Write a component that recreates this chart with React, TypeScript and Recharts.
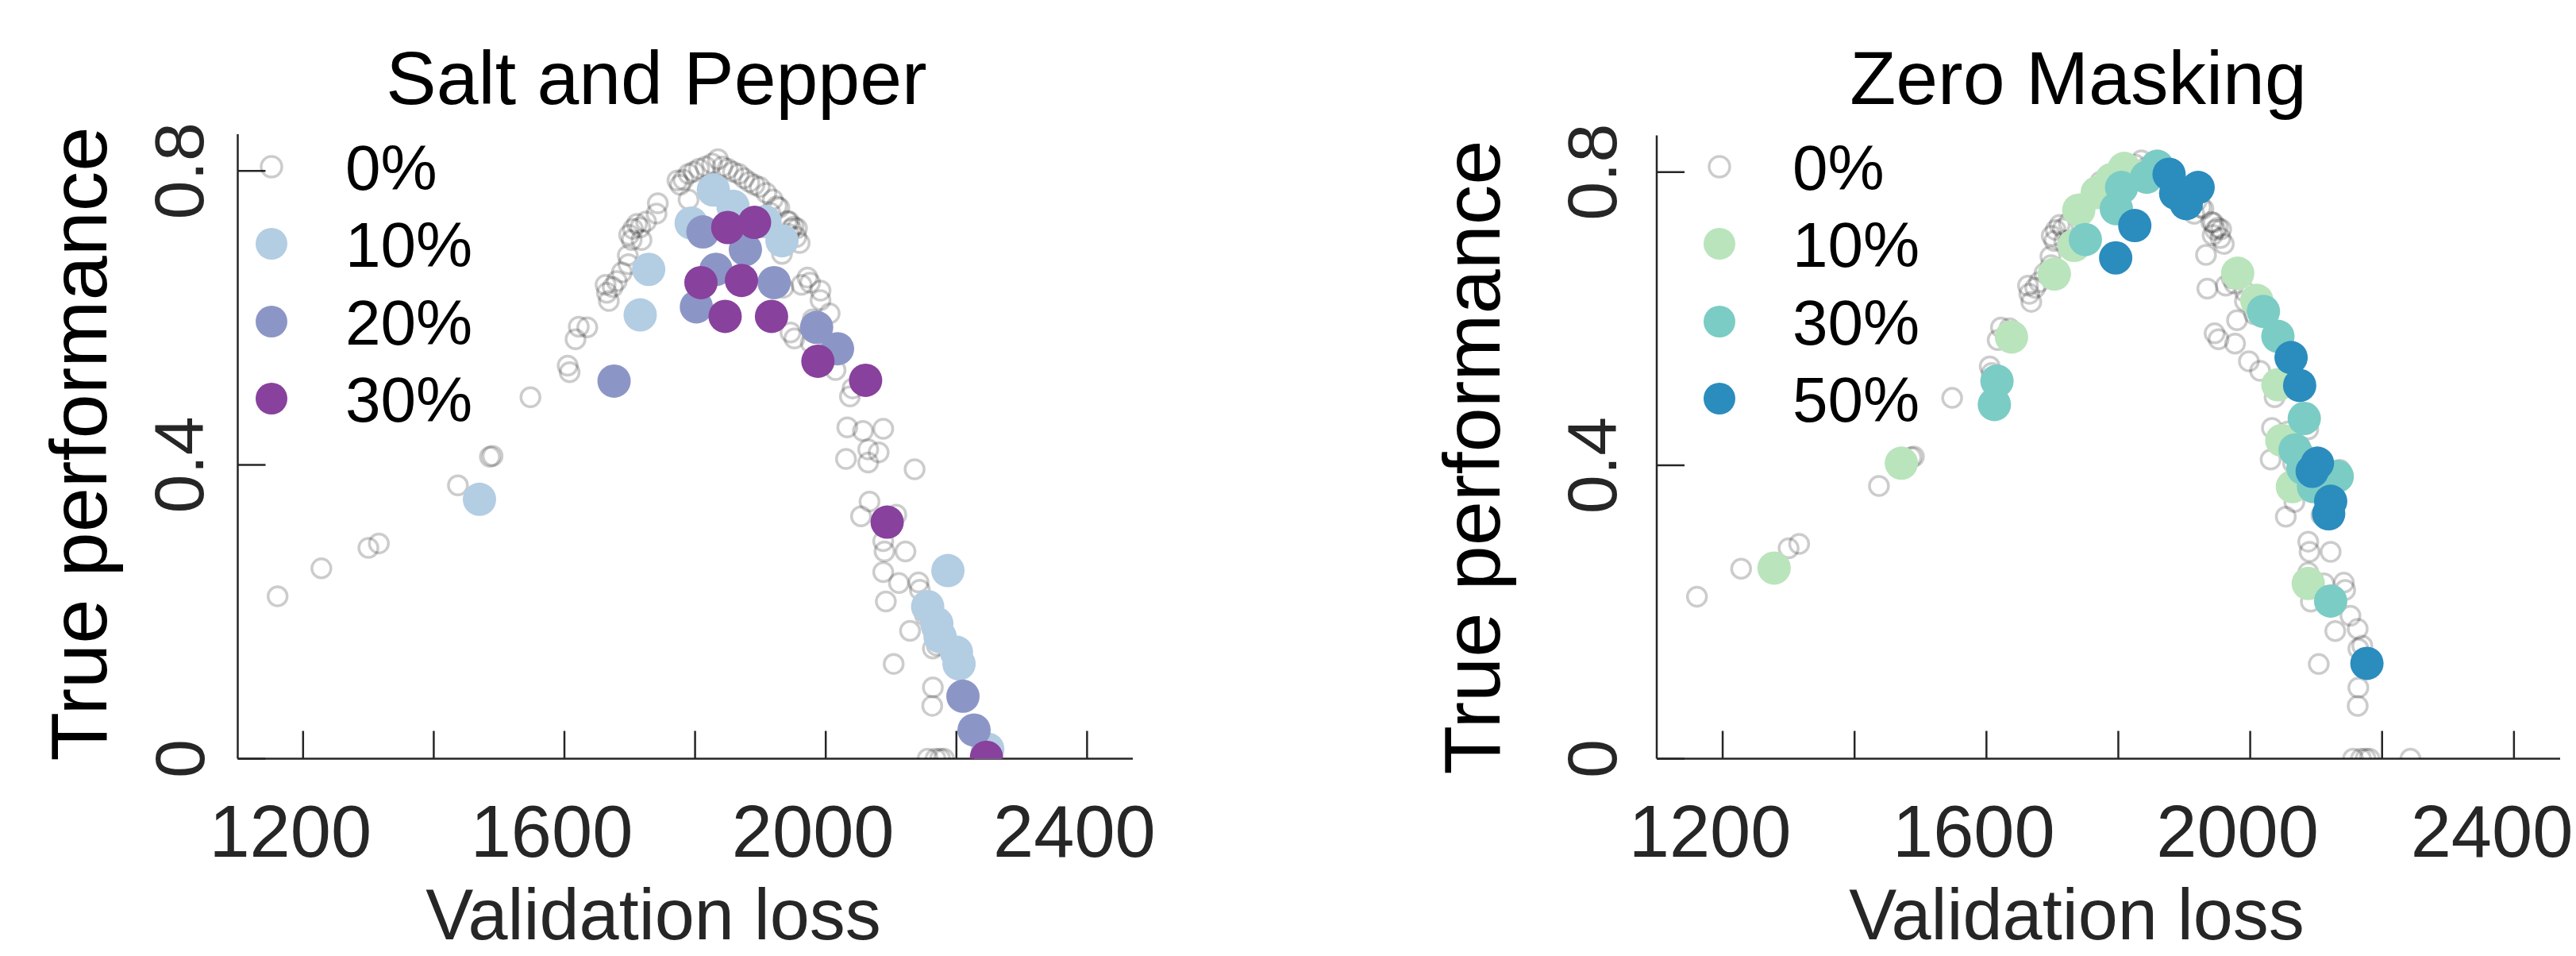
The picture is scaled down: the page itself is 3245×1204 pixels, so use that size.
import React from 'react';
import { ScatterChart, Scatter, XAxis, YAxis } from 'recharts';

const FONT = '"Liberation Sans", Arial, Helvetica, sans-serif';
const INK = '#262626';
const H = 1204;

const X_TICKS = [1200, 1400, 1600, 1800, 2000, 2200, 2400];
const X_LABELED = [1200, 1600, 2000, 2400];
const Y_TICKS = [0, 0.4, 0.8];

// 0% noise runs (same in both panels): [validation loss, true performance]
const NOISE_0: [number, number][] = [
  [1161, 0.221], [1228, 0.259], [1300, 0.287], [1316, 0.293], [1437, 0.372], [1486, 0.411], [1490, 0.412],
  [1548, 0.492], [1605, 0.535], [1608, 0.526], [1617, 0.571], [1622, 0.588], [1635, 0.587],
  [1663, 0.645], [1665, 0.634], [1668, 0.623], [1674, 0.642], [1680, 0.65], [1688, 0.662], [1698, 0.673],
  [1697, 0.685], [1699, 0.713], [1703, 0.706], [1705, 0.721], [1711, 0.728], [1716, 0.723], [1718, 0.706],
  [1725, 0.731], [1741, 0.742], [1743, 0.756],
  [1773, 0.787], [1777, 0.781], [1782, 0.788], [1790, 0.796], [1790, 0.761], [1798, 0.799], [1806, 0.803],
  [1816, 0.806], [1826, 0.81], [1835, 0.816], [1842, 0.806], [1850, 0.803], [1858, 0.799], [1867, 0.796],
  [1875, 0.79], [1883, 0.785], [1891, 0.781], [1899, 0.778], [1909, 0.77], [1915, 0.743], [1919, 0.761],
  [1925, 0.752], [1929, 0.75], [1941, 0.732], [1944, 0.731], [1947, 0.721], [1951, 0.724], [1956, 0.722],
  [1955, 0.71], [1960, 0.702], [1933, 0.687], [1943, 0.714],
  [1935, 0.641], [1963, 0.645], [1972, 0.655], [1976, 0.648], [1992, 0.637], [1992, 0.624], [1980, 0.598],
  [2006, 0.606], [1946, 0.58], [1952, 0.572], [1977, 0.566], [1998, 0.542], [2015, 0.529], [2041, 0.504],
  [2037, 0.493],
  [2033, 0.451], [2057, 0.446], [2088, 0.449], [2031, 0.408], [2065, 0.421], [2081, 0.417], [2065, 0.403],
  [2136, 0.394], [2067, 0.35], [2054, 0.33], [2108, 0.332], [2088, 0.296], [2090, 0.282], [2122, 0.282],
  [2088, 0.254], [2112, 0.239], [2142, 0.24], [2144, 0.23], [2092, 0.214], [2152, 0.195], [2163, 0.177],
  [2129, 0.174], [2164, 0.15], [2170, 0.154], [2104, 0.129], [2164, 0.097], [2163, 0.072],
  [2156, 0], [2168, 0], [2175, 0], [2181, 0], [2243, 0],
];

// Salt and Pepper
const SP_10: [number, number][] = [
  [1470, 0.353], [1716, 0.604], [1729, 0.666], [1794, 0.729], [1828, 0.774], [1858, 0.752], [1907, 0.731],
  [1933, 0.705], [2187, 0.256], [2156, 0.207], [2170, 0.184], [2175, 0.166], [2200, 0.145], [2204, 0.129],
  [2248, 0.013],
];
const SP_20: [number, number][] = [
  [1676, 0.514], [1802, 0.615], [1812, 0.717], [1832, 0.666], [1877, 0.693], [1921, 0.648], [1986, 0.587],
  [2018, 0.558], [2210, 0.085], [2227, 0.039],
];
const SP_30: [number, number][] = [
  [1809, 0.648], [1846, 0.602], [1850, 0.723], [1871, 0.651], [1891, 0.73], [1917, 0.602], [1988, 0.541],
  [2061, 0.515], [2094, 0.322], [2246, 0.002],
];

// Zero Masking
const ZM_10: [number, number][] = [
  [1278, 0.26], [1471, 0.403], [1638, 0.575], [1703, 0.661], [1733, 0.7], [1740, 0.748], [1768, 0.772],
  [1790, 0.79], [1809, 0.805], [1981, 0.662], [2010, 0.625], [2042, 0.51], [2048, 0.434], [2064, 0.371],
  [2088, 0.239],
];
const ZM_30: [number, number][] = [
  [1612, 0.483], [1616, 0.515], [1750, 0.708], [1797, 0.75], [1805, 0.779], [1843, 0.793], [1859, 0.808],
  [2020, 0.61], [2042, 0.576], [2068, 0.421], [2080, 0.396], [2082, 0.464], [2096, 0.371], [2132, 0.385],
  [2122, 0.215],
];
const ZM_50: [number, number][] = [
  [1796, 0.683], [1825, 0.727], [1877, 0.797], [1887, 0.771], [1903, 0.757], [1921, 0.779], [2062, 0.547],
  [2075, 0.509], [2094, 0.392], [2102, 0.403], [2119, 0.334], [2122, 0.351], [2177, 0.13],
];

const GRAY = 'rgba(0,0,0,0.2)';

interface Series {
  label: string;
  color: string | null; // null = open gray circle
  data: [number, number][];
}

const SP_SERIES: Series[] = [
  { label: '0%', color: null, data: NOISE_0 },
  { label: '10%', color: '#b3cde3', data: SP_10 },
  { label: '20%', color: '#8c96c6', data: SP_20 },
  { label: '30%', color: '#88419d', data: SP_30 },
];
const ZM_SERIES: Series[] = [
  { label: '0%', color: null, data: NOISE_0 },
  { label: '10%', color: '#bae4bc', data: ZM_10 },
  { label: '30%', color: '#7bccc4', data: ZM_30 },
  { label: '50%', color: '#2b8cbe', data: ZM_50 },
];

const toPts = (d: [number, number][]) => d.map(([x, y]) => ({ x, y }));

function XTick(props: any) {
  const { x, y, payload, maxX } = props;
  // labels sit a bit left of their tick; keep the last one inside the page
  const lx = Math.min(x - 16, maxX);
  return (
    <g>
      <line x1={x} y1={y} x2={x} y2={y - 35} stroke={INK} strokeWidth={2.5} />
      {X_LABELED.includes(payload.value) && (
        <text x={lx} y={y + 123} textAnchor="middle" fontSize={92} fontFamily={FONT} fill={INK}>
          {payload.value}
        </text>
      )}
    </g>
  );
}

function YTick(props: any) {
  const { x, y, payload, gap } = props;
  const tx = x - gap;
  return (
    <g>
      <line x1={x} y1={y} x2={x + 35} y2={y} stroke={INK} strokeWidth={2.5} />
      <text x={tx} y={y} transform={`rotate(-90 ${tx} ${y})`} textAnchor="middle" fontSize={88} fontFamily={FONT} fill={INK}>
        {payload.value}
      </text>
    </g>
  );
}

interface PanelProps {
  left: number;
  width: number;
  axisX: number; // y-axis position inside the panel
  plotRight: number;
  top: number;
  gap: number;
  series: Series[];
}

function Panel({ left, width, axisX, plotRight, top, gap, series }: PanelProps) {
  return (
    <div style={{ position: 'absolute', left, top: 0 }}>
      <ScatterChart width={width} height={H} margin={{ top, right: width - plotRight, bottom: 0, left: 0 }}>
        <XAxis
          type="number"
          dataKey="x"
          domain={[1100, 2470]}
          allowDataOverflow
          ticks={X_TICKS}
          interval={0}
          tickSize={0}
          tickMargin={0}
          tickLine={false}
          tick={(p: any) => <XTick {...p} maxX={width - 106} />}
          axisLine={{ stroke: INK, strokeWidth: 2.5 }}
          height={H - 955.5}
        />
        <YAxis
          type="number"
          dataKey="y"
          domain={[0, 0.85]}
          allowDataOverflow
          ticks={Y_TICKS}
          interval={0}
          tickSize={0}
          tickMargin={0}
          tickLine={false}
          tick={(p: any) => <YTick {...p} gap={gap} />}
          axisLine={{ stroke: INK, strokeWidth: 2.5 }}
          width={axisX}
        />
        {series.map((s) => (
          <Scatter
            key={s.label}
            data={toPts(s.data)}
            isAnimationActive={false}
            shape={(p: any) =>
              s.color ? (
                <circle cx={p.cx} cy={p.cy} r={21} fill={s.color} />
              ) : (
                <circle cx={p.cx} cy={p.cy} r={12} fill="none" stroke={GRAY} strokeWidth={3.5} />
              )
            }
          />
        ))}
      </ScatterChart>
    </div>
  );
}

function LegendBlock({ x, textX, series }: { x: number; textX: number; series: Series[] }) {
  const rows = [210, 307, 405, 502];
  return (
    <g>
      {series.map((s, i) => (
        <g key={s.label}>
          {s.color ? (
            <circle cx={x} cy={rows[i]} r={20} fill={s.color} />
          ) : (
            <circle cx={x} cy={rows[i]} r={13} fill="none" stroke={GRAY} strokeWidth={3.5} />
          )}
          <text x={textX} y={rows[i] + 29} fontSize={80} fontFamily={FONT} fill="#000">
            {s.label}
          </text>
        </g>
      ))}
    </g>
  );
}

export default function App() {
  return (
    <div style={{ position: 'absolute', left: 0, top: 0, width: 3245, height: H, background: '#fff', overflow: 'hidden' }}>
      <Panel left={0} width={1500} axisX={299.5} plotRight={1427} top={169} gap={43} series={SP_SERIES} />
      <Panel left={1650} width={1595} axisX={437} plotRight={1575} top={170.5} gap={51} series={ZM_SERIES} />
      <svg width={3245} height={H} style={{ position: 'absolute', left: 0, top: 0, pointerEvents: 'none' }}>
        <text x={827} y={131} textAnchor="middle" fontSize={95} fontFamily={FONT} fill="#000">Salt and Pepper</text>
        <text x={2618} y={131} textAnchor="middle" fontSize={95} fontFamily={FONT} fill="#000">Zero Masking</text>
        <text x={823} y={1183} textAnchor="middle" fontSize={90} fontFamily={FONT} fill={INK}>Validation loss</text>
        <text x={2616} y={1183} textAnchor="middle" fontSize={90} fontFamily={FONT} fill={INK}>Validation loss</text>
        <text x={134} y={559} transform="rotate(-90 134 559)" textAnchor="middle" fontSize={101} fontFamily={FONT} fill="#000">True performance</text>
        <text x={1889} y={576} transform="rotate(-90 1889 576)" textAnchor="middle" fontSize={101} fontFamily={FONT} fill="#000">True performance</text>
        <LegendBlock x={342} textX={435} series={SP_SERIES} />
        <LegendBlock x={2166} textX={2258} series={ZM_SERIES} />
      </svg>
    </div>
  );
}
